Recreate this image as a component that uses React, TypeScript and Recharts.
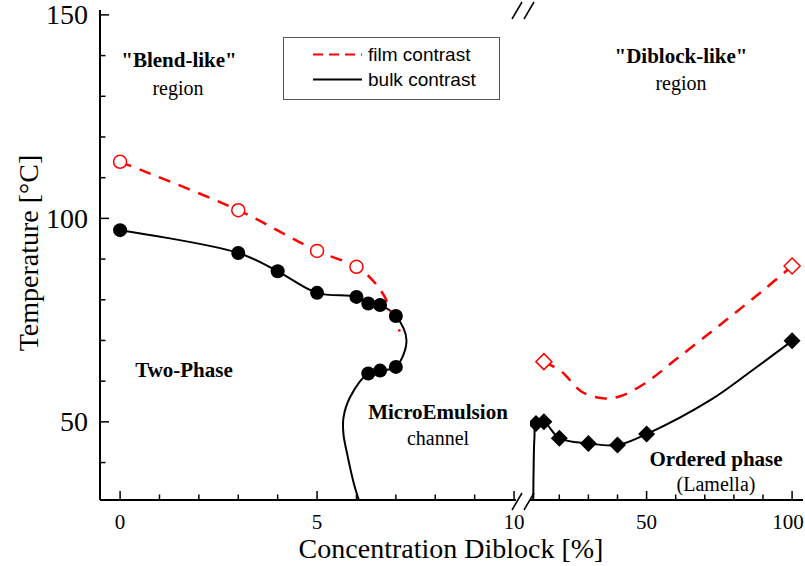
import { ComposedChart, Line, Scatter, XAxis, YAxis, Legend } from 'recharts';

const SERIF = "'Liberation Serif', 'Times New Roman', serif";
const SANS = "'Liberation Sans', Arial, sans-serif";
const RED = '#ff0000';

// c = diblock concentration [%], t = temperature [°C]
// left panel, 0..10 %
const bulkDotsLeft = [
  { c: 0, t: 97.1 }, { c: 3, t: 91.5 }, { c: 4, t: 87.0 }, { c: 5, t: 81.7 },
  { c: 6, t: 80.7 }, { c: 6.3, t: 79.1 }, { c: 6.6, t: 78.7 }, { c: 7, t: 76.0 },
  { c: 7, t: 63.5 }, { c: 6.6, t: 62.6 }, { c: 6.3, t: 61.9 },
];
const bulkCurveLeft = [
  { c: 0, t: 97.1 }, { c: 3, t: 91.5 }, { c: 4, t: 87.0 }, { c: 5, t: 81.7 },
  { c: 6, t: 80.7 }, { c: 6.3, t: 79.1 }, { c: 6.6, t: 78.7 }, { c: 7, t: 76.0 },
  { c: 7.27, t: 70 }, { c: 7, t: 63.5 }, { c: 6.6, t: 62.6 }, { c: 6.3, t: 61.9 },
  { c: 5.84, t: 56.1 }, { c: 5.67, t: 51 }, { c: 5.67, t: 47 }, { c: 5.78, t: 41.4 },
  { c: 5.93, t: 35 }, { c: 6.06, t: 30.8 },
];
const filmDotsLeft = [
  { c: 0, t: 113.9 }, { c: 3, t: 102.0 }, { c: 5, t: 92.0 }, { c: 6, t: 88.1 },
];
const filmCurveLeft = [
  { c: 0, t: 113.9 }, { c: 3, t: 102.0 }, { c: 5, t: 92.0 }, { c: 6, t: 88.1 },
  { c: 6.4, t: 84.9 }, { c: 6.7, t: 81 }, { c: 6.9, t: 76.5 }, { c: 7.1, t: 72.2 },
];

// right panel, 10..100 %
const bulkDotsRight = [
  { c: 12, t: 49.6 }, { c: 14.7, t: 50.0 }, { c: 20, t: 46.0 }, { c: 30, t: 44.7 },
  { c: 40, t: 44.3 }, { c: 50, t: 47.0 }, { c: 100, t: 69.9 },
];
const bulkCurveRight = [
  { c: 11.05, t: 30.8 }, { c: 11.2, t: 40 }, { c: 11.45, t: 46 }, { c: 12, t: 49.6 },
  { c: 14.7, t: 50.0 }, { c: 20, t: 46.0 }, { c: 30, t: 44.7 }, { c: 40, t: 44.3 },
  { c: 50, t: 47.0 }, { c: 72, t: 55.4 }, { c: 86, t: 62.5 }, { c: 100, t: 69.9 },
];
const filmDotsRight = [{ c: 14.7, t: 64.8 }, { c: 100, t: 88.3 }];
const filmCurveRight = [
  { c: 14.7, t: 64.8 }, { c: 20.8, t: 62.3 }, { c: 27.7, t: 57.4 }, { c: 35, t: 55.8 },
  { c: 40.9, t: 56.3 }, { c: 49.5, t: 59.5 }, { c: 60, t: 65.3 }, { c: 75, t: 73.7 },
  { c: 90, t: 82.3 }, { c: 100, t: 88.3 },
];

const tempTicks = [40, 50, 60, 70, 80, 90, 100, 110, 120, 130, 140, 150];
const tempMajor = [50, 100, 150];
const concTicksLeft = [0, 1, 2, 3, 4, 5, 6, 7, 8, 9, 10];
const concMajorLeft = [0, 5, 10];
const concTicksRight = [20, 30, 40, 50, 60, 70, 80, 90, 100];
const concMajorRight = [50, 100];

const legendItems = [
  { name: 'film contrast', color: RED, dash: '10 6' },
  { name: 'bulk contrast', color: '#000', dash: undefined },
];

const T_DOMAIN = [30.8, 151.2];
const AXIS_LINE = { stroke: '#000', strokeWidth: 2 };

// centripetal catmull-rom, the curves bend back on themselves in x
const catmullRom = (context: any) => {
  let pts: number[][] = [];
  return {
    areaStart() {},
    areaEnd() {},
    lineStart() {
      pts = [];
    },
    point(x: number, y: number) {
      pts.push([+x, +y]);
    },
    lineEnd() {
      const n = pts.length;
      if (!n) return;
      context.moveTo(pts[0][0], pts[0][1]);
      for (let i = 0; i < n - 1; i++) {
        const p0 = pts[i - 1] || pts[i];
        const p1 = pts[i];
        const p2 = pts[i + 1];
        const p3 = pts[i + 2] || p2;
        const l01 = Math.pow(Math.hypot(p1[0] - p0[0], p1[1] - p0[1]), 0.5);
        const l12 = Math.pow(Math.hypot(p2[0] - p1[0], p2[1] - p1[1]), 0.5);
        const l23 = Math.pow(Math.hypot(p3[0] - p2[0], p3[1] - p2[1]), 0.5);
        let c1 = p1;
        let c2 = p2;
        if (l01 > 1e-6) {
          const a = 2 * l01 * l01 + 3 * l01 * l12 + l12 * l12;
          const m = 3 * l01 * (l01 + l12);
          c1 = [0, 1].map((k) => (p1[k] * a - p0[k] * l12 * l12 + p2[k] * l01 * l01) / m);
        }
        if (l23 > 1e-6) {
          const b = 2 * l23 * l23 + 3 * l23 * l12 + l12 * l12;
          const m = 3 * l23 * (l23 + l12);
          c2 = [0, 1].map((k) => (p2[k] * b + p1[k] * l23 * l23 - p3[k] * l12 * l12) / m);
        }
        context.bezierCurveTo(c1[0], c1[1], c2[0], c2[1], p2[0], p2[1]);
      }
    },
  };
};

// maxX keeps the last label inside the svg
const axisTick = (side: string, majors: number[], showLabel: boolean, maxX = Infinity) => (props: any) => {
  const { x, y, payload } = props;
  const v = payload.value;
  const major = majors.includes(v);
  const len = major ? 9 : 5.5;
  const dx = side === 'left' ? len : side === 'right' ? -len : 0;
  const dy = side === 'bottom' ? -len : side === 'top' ? len : 0;
  return (
    <g>
      <line x1={x} y1={y} x2={x + dx} y2={y + dy} stroke="#000" strokeWidth={1.5} />
      {showLabel && major && side === 'bottom' && (
        <text x={Math.min(x, maxX)} y={y + 22} textAnchor="middle" dominantBaseline="central" fontSize={21} fontFamily={SERIF} fill="#000">
          {v}
        </text>
      )}
      {showLabel && major && side === 'left' && (
        <text x={x - 12} y={y} textAnchor="end" dominantBaseline="central" fontSize={28} fontFamily={SERIF} fill="#000">
          {v}
        </text>
      )}
    </g>
  );
};

const filledCircle = (props: any) => <circle cx={props.cx} cy={props.cy} r={7} fill="#000" />;
const openCircle = (props: any) => (
  <circle cx={props.cx} cy={props.cy} r={6.5} fill="#fff" stroke={RED} strokeWidth={1.5} />
);
const diamondPath = (cx: number, cy: number, h: number) =>
  `M${cx},${cy - h}L${cx + h},${cy}L${cx},${cy + h}L${cx - h},${cy}Z`;
const filledDiamond = (props: any) => <path d={diamondPath(props.cx, props.cy, 8.5)} fill="#000" />;
const openDiamond = (props: any) => (
  <path d={diamondPath(props.cx, props.cy, 8)} fill="#fff" stroke={RED} strokeWidth={1.5} />
);

const renderLegend = () => (
  <div
    style={{
      width: 217,
      height: 63,
      boxSizing: 'border-box',
      border: '1.5px solid #555',
      background: '#fff',
      fontFamily: SANS,
      fontSize: 19,
      paddingTop: 4,
    }}
  >
    {legendItems.map((it) => (
      <div key={it.name} style={{ display: 'flex', alignItems: 'center', height: 25 }}>
        <svg width={84} height={25}>
          <line x1={29} x2={78} y1={12.5} y2={12.5} stroke={it.color} strokeWidth={2} strokeDasharray={it.dash} />
        </svg>
        <span style={{ color: '#000' }}>{it.name}</span>
      </div>
    ))}
  </div>
);

const breakMark = (x: number, y: number) => (
  <g stroke="#000" strokeWidth={1.5}>
    <line x1={x} y1={y + 9} x2={x + 10} y2={y - 8} />
    <line x1={x + 12} y1={y + 9} x2={x + 22} y2={y - 8} />
  </g>
);

const bold = { fontFamily: SERIF, fontSize: 21, fontWeight: 700, textAnchor: 'middle' as const, dominantBaseline: 'central' as const };
const plain = { fontFamily: SERIF, fontSize: 20, textAnchor: 'middle' as const, dominantBaseline: 'central' as const };

export default function App() {
  return (
    <div style={{ position: 'absolute', left: 0, top: 0, width: 805, height: 566, background: '#fff' }}>
      <div style={{ position: 'absolute', left: 0, top: 0 }}>
        <ComposedChart width={540} height={566} margin={{ top: 10, right: 24, bottom: 0, left: 0 }}>
          <XAxis
            xAxisId="b" dataKey="c" type="number" domain={[-0.51, 10.05]} allowDataOverflow
            ticks={concTicksLeft} interval={0} height={66} tickSize={0} tickMargin={0} tickLine={false}
            tick={axisTick('bottom', concMajorLeft, true)} axisLine={AXIS_LINE}
          />
          <XAxis
            xAxisId="t" orientation="top" dataKey="c" type="number" domain={[-0.51, 10.05]} allowDataOverflow
            ticks={concTicksLeft} interval={0} height={0} tickSize={0} tickMargin={0} tickLine={false}
            tick={axisTick('top', concMajorLeft, false)} axisLine={AXIS_LINE}
          />
          <YAxis
            yAxisId="l" dataKey="t" type="number" domain={T_DOMAIN} allowDataOverflow
            ticks={tempTicks} interval={0} width={100} tickSize={0} tickMargin={0} tickLine={false}
            tick={axisTick('left', tempMajor, true)} axisLine={AXIS_LINE}
          />
          <Line xAxisId="b" yAxisId="l" data={bulkCurveLeft} dataKey="t" type={catmullRom as any}
            stroke="#000" strokeWidth={2} dot={false} activeDot={false} isAnimationActive={false} />
          <Line xAxisId="b" yAxisId="l" data={filmCurveLeft} dataKey="t" type={catmullRom as any}
            stroke={RED} strokeWidth={2.5} strokeDasharray="12 9" dot={false} activeDot={false} isAnimationActive={false} />
          <Scatter xAxisId="b" yAxisId="l" data={filmDotsLeft} shape={openCircle} isAnimationActive={false} />
          <Scatter xAxisId="b" yAxisId="l" data={bulkDotsLeft} shape={filledCircle} isAnimationActive={false} />
          <Legend
            content={renderLegend} layout="horizontal" align="center" verticalAlign="middle"
            wrapperStyle={{ left: 283, top: 37, width: 217, height: 63 }}
          />
        </ComposedChart>
      </div>
      <div style={{ position: 'absolute', left: 520, top: 0 }}>
        <ComposedChart width={285} height={566} margin={{ top: 10, right: 2, bottom: 0, left: 10 }}>
          <XAxis
            xAxisId="b" dataKey="c" type="number" domain={[9.93, 103.75]} allowDataOverflow
            ticks={concTicksRight} interval={0} height={66} tickSize={0} tickMargin={0} tickLine={false}
            tick={axisTick('bottom', concMajorRight, true, 268)} axisLine={AXIS_LINE}
          />
          <XAxis
            xAxisId="t" orientation="top" dataKey="c" type="number" domain={[9.93, 103.75]} allowDataOverflow
            ticks={concTicksRight} interval={0} height={0} tickSize={0} tickMargin={0} tickLine={false}
            tick={axisTick('top', concMajorRight, false)} axisLine={AXIS_LINE}
          />
          <YAxis
            yAxisId="r" orientation="right" dataKey="t" type="number" domain={T_DOMAIN} allowDataOverflow
            ticks={tempTicks} interval={0} width={0} tickSize={0} tickMargin={0} tickLine={false}
            tick={axisTick('right', tempMajor, false)} axisLine={AXIS_LINE}
          />
          <Line xAxisId="b" yAxisId="r" data={bulkCurveRight} dataKey="t" type={catmullRom as any}
            stroke="#000" strokeWidth={2} dot={false} activeDot={false} isAnimationActive={false} />
          <Line xAxisId="b" yAxisId="r" data={filmCurveRight} dataKey="t" type={catmullRom as any}
            stroke={RED} strokeWidth={2.5} strokeDasharray="12 9" dot={false} activeDot={false} isAnimationActive={false} />
          <Scatter xAxisId="b" yAxisId="r" data={filmDotsRight} shape={openDiamond} isAnimationActive={false} />
          <Scatter xAxisId="b" yAxisId="r" data={bulkDotsRight} shape={filledDiamond} isAnimationActive={false} />
        </ComposedChart>
      </div>
      <svg width={805} height={566} style={{ position: 'absolute', left: 0, top: 0, pointerEvents: 'none' }}>
        {breakMark(512, 501)}
        {breakMark(512, 10)}
        <text {...bold} x={179} y={60}>"Blend-like"</text>
        <text {...plain} x={178} y={88}>region</text>
        <text {...bold} x={681} y={56}>"Diblock-like"</text>
        <text {...plain} x={681} y={83}>region</text>
        <text {...bold} x={184} y={370}>Two-Phase</text>
        <text {...bold} x={438} y={412}>MicroEmulsion</text>
        <text {...plain} x={438} y={438}>channel</text>
        <text {...bold} x={716} y={459}>Ordered phase</text>
        <text {...plain} x={716} y={484}>(Lamella)</text>
        <text x={451} y={548} textAnchor="middle" dominantBaseline="central" fontFamily={SERIF} fontSize={28}>
          Concentration Diblock [%]
        </text>
        <text
          x={28} y={253} textAnchor="middle" dominantBaseline="central" fontFamily={SERIF} fontSize={28}
          transform="rotate(-90 28 253)"
        >
          Temperature [°C]
        </text>
      </svg>
    </div>
  );
}
